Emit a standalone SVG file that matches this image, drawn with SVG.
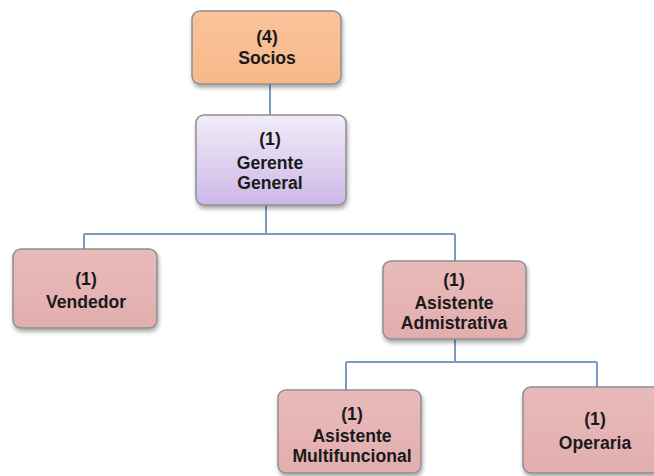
<svg xmlns="http://www.w3.org/2000/svg" width="654" height="476" viewBox="0 0 654 476">
  <defs>
    <linearGradient id="gOrange" x1="0" y1="0" x2="0" y2="1">
      <stop offset="0" stop-color="#FAC39A"/>
      <stop offset="1" stop-color="#F7B98A"/>
    </linearGradient>
    <linearGradient id="gViolet" x1="0" y1="0" x2="0" y2="1">
      <stop offset="0" stop-color="#F1ECF9"/>
      <stop offset="1" stop-color="#CDB8E8"/>
    </linearGradient>
    <linearGradient id="gPink" x1="0" y1="0" x2="0" y2="1">
      <stop offset="0" stop-color="#E9BABA"/>
      <stop offset="1" stop-color="#E2AEAE"/>
    </linearGradient>
    <filter id="shadow" x="-10%" y="-10%" width="125%" height="130%">
      <feGaussianBlur in="SourceAlpha" stdDeviation="2"/>
      <feOffset dx="1" dy="3" result="b"/>
      <feComponentTransfer><feFuncA type="linear" slope="0.35"/></feComponentTransfer>
      <feMerge><feMergeNode/><feMergeNode in="SourceGraphic"/></feMerge>
    </filter>
  </defs>
  <style>
    .box { stroke: #8E8E8E; stroke-width: 1.5; filter: url(#shadow); }
    .orange { fill: url(#gOrange); }
    .violet { fill: url(#gViolet); }
    .pink { fill: url(#gPink); }
    .lbl { font-family: "Liberation Sans", Arial, sans-serif; font-weight: bold; font-size: 17.6px; fill: #1A1A1A; text-anchor: middle; }
    .conn { stroke: #7C9AC4; stroke-width: 2; fill: none; }
  </style>
  <rect width="654" height="476" fill="#FFFFFF"/>

  <g id="connectors">
    <path class="conn" d="M270 84 V116"/>
    <path class="conn" d="M266 205 V234 M84 234 H455 M84 234 V250 M455 234 V262"/>
    <path class="conn" d="M455 339 V362 M346 362 H597 M346 362 V391 M597 362 V388"/>
  </g>

  <g id="socios">
    <rect class="box orange" x="192" y="11" width="149" height="73" rx="8"/>
    <text class="lbl" x="267" y="43">(4)</text>
    <text class="lbl" x="267" y="64">Socios</text>
  </g>

  <g id="gerente-general">
    <rect class="box violet" x="196" y="115" width="150" height="90" rx="8"/>
    <text class="lbl" x="270" y="145">(1)</text>
    <text class="lbl" x="270" y="169">Gerente</text>
    <text class="lbl" x="270" y="189">General</text>
  </g>

  <g id="vendedor">
    <rect class="box pink" x="13" y="249" width="144" height="79" rx="8"/>
    <text class="lbl" x="86" y="285">(1)</text>
    <text class="lbl" x="86" y="308">Vendedor</text>
  </g>

  <g id="asistente-administrativa">
    <rect class="box pink" x="383" y="261" width="143" height="78" rx="8"/>
    <text class="lbl" x="454" y="286">(1)</text>
    <text class="lbl" x="454" y="309">Asistente</text>
    <text class="lbl" x="454" y="329">Admistrativa</text>
  </g>

  <g id="asistente-multifuncional">
    <rect class="box pink" x="278" y="390" width="143" height="83" rx="8"/>
    <text class="lbl" x="352" y="420">(1)</text>
    <text class="lbl" x="352" y="442">Asistente</text>
    <text class="lbl" x="352" y="462">Multifuncional</text>
  </g>

  <g id="operaria">
    <rect class="box pink" x="523" y="387" width="150" height="86" rx="8"/>
    <text class="lbl" x="595" y="425">(1)</text>
    <text class="lbl" x="595" y="449">Operaria</text>
  </g>
</svg>
